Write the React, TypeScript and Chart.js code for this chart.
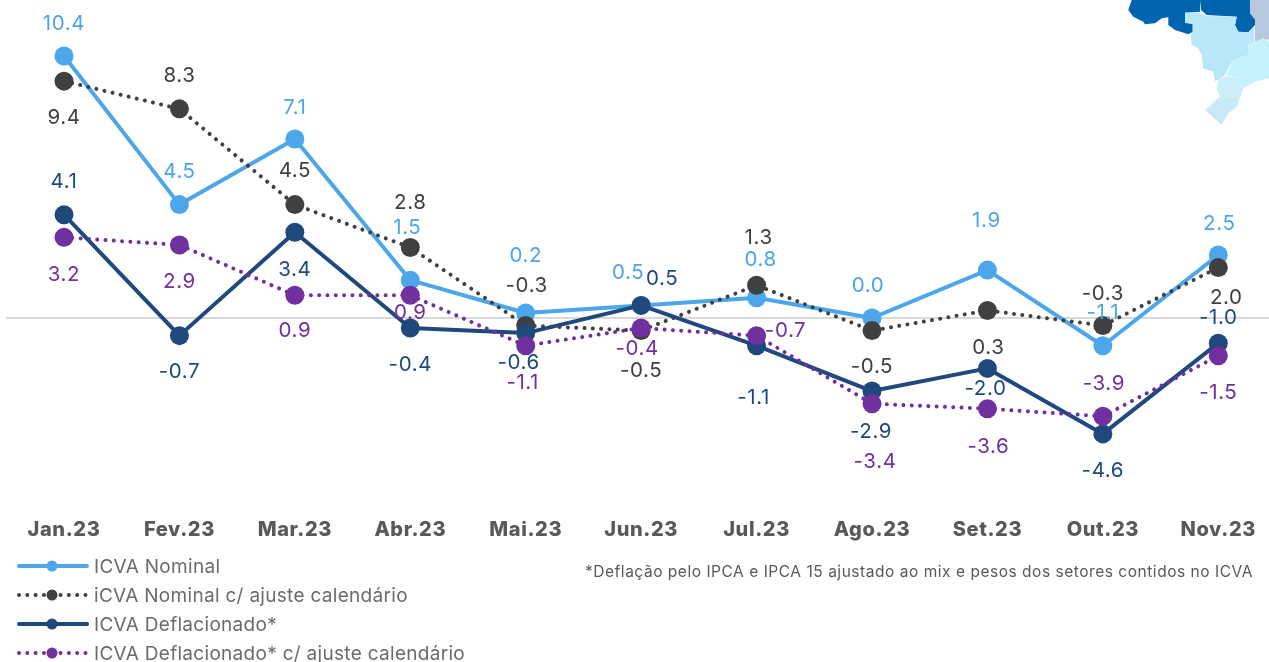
import React, { useEffect, useRef } from "react";
import { Chart, registerables } from "chart.js";

Chart.register(...registerables);

const categories = ["Jan.23", "Fev.23", "Mar.23", "Abr.23", "Mai.23", "Jun.23", "Jul.23", "Ago.23", "Set.23", "Out.23", "Nov.23"];
const nominal = [10.4, 4.5, 7.1, 1.5, 0.2, 0.5, 0.8, 0.0, 1.9, -1.1, 2.5];
const nominalAdjusted = [9.4, 8.3, 4.5, 2.8, -0.3, -0.5, 1.3, -0.5, 0.3, -0.3, 2.0];
const deflated = [4.1, -0.7, 3.4, -0.4, -0.6, 0.5, -1.1, -2.9, -2.0, -4.6, -1.0];
const deflatedAdjusted = [3.2, 2.9, 0.9, 0.9, -1.1, -0.4, -0.7, -3.4, -3.6, -3.9, -1.5];
const footnote = "*Deflação pelo IPCA e IPCA 15 ajustado ao mix e pesos dos setores contidos no ICVA";

// label offsets from each point, in pixels
const nominalOffsets = [[0,-34],[0,-35],[0,-33],[-3,-54],[0,-59],[-13,-35],[4,-40],[-4,-34],[-1,-51],[0,-35],[1,-33]];
const nominalAdjustedOffsets = [[0,35],[0,-35],[0,-36],[0,-47],[1,-42],[0,38],[2,-49],[0,34],[1,35],[0,-34],[8,28]];
const deflatedOffsets = [[0,-35],[0,34],[0,36],[0,35],[-7,28],[21,-29],[-3,50],[-1,39],[-2,18],[0,35],[0,-27]];
const deflatedAdjustedOffsets = [[0,35],[0,35],[0,34],[0,16],[-3,35],[-4,19],[29,-7],[3,56],[1,36],[1,-34],[0,35]];

const FONT = "Inter, 'Open Sans', sans-serif";
const DOTTED = [0.01, 8.3];

const seriesOffsets = [nominalOffsets, nominalAdjustedOffsets, deflatedOffsets, deflatedAdjustedOffsets];

const labelPlugin = {
  id: "pointValueLabels",
  beforeDraw(chart: any) {
    chart.ctx.letterSpacing = "0.6px";
  },
  afterDatasetsDraw(chart: any) {
    const { ctx } = chart;
    ctx.save();
    ctx.textAlign = "center";
    ctx.textBaseline = "middle";
    ctx.font = `400 20.5px ${FONT}`;
    chart.data.datasets.forEach((ds: any, d: number) => {
      const meta = chart.getDatasetMeta(d);
      ctx.fillStyle = ds.borderColor;
      meta.data.forEach((pt: any, i: number) => {
        const [dx, dy] = seriesOffsets[d][i];
        ctx.fillText(ds.data[i].toFixed(1), pt.x + dx, pt.y + dy + 2);
      });
    });
    ctx.restore();
  },
};

const legendPlugin = {
  id: "lineMarkerLegend",
  afterDraw(chart: any) {
    const { ctx } = chart;
    ctx.save();
    chart.data.datasets.forEach((ds: any, d: number) => {
      const y = 566 + d * 29;
      ctx.strokeStyle = ds.borderColor;
      ctx.lineWidth = ds.borderWidth;
      ctx.lineCap = "round";
      ctx.setLineDash(ds.borderDash || []);
      ctx.beginPath();
      ctx.moveTo(19, y);
      ctx.lineTo(87, y);
      ctx.stroke();
      ctx.setLineDash([]);
      ctx.fillStyle = ds.pointBackgroundColor;
      ctx.beginPath();
      ctx.arc(52, y, 5.5, 0, Math.PI * 2);
      ctx.fill();
      ctx.fillStyle = "#6b6b6b";
      ctx.font = `400 19px ${FONT}`;
      ctx.letterSpacing = "0.3px";
      ctx.textAlign = "left";
      ctx.textBaseline = "middle";
      ctx.fillText(ds.label, 94, y + 1);
      ctx.letterSpacing = "0.6px";
    });
    ctx.fillStyle = "#595959";
    ctx.font = `400 15.5px ${FONT}`;
    ctx.letterSpacing = "0.53px";
    ctx.textAlign = "left";
    ctx.textBaseline = "middle";
    ctx.fillText(footnote, 585, 572);
    ctx.restore();
  },
};

function makeSeries(label: string, data: number[], color: string, order: number, dotted: boolean) {
  return {
    label,
    data,
    order,
    borderColor: color,
    backgroundColor: color,
    pointBackgroundColor: color,
    pointBorderColor: color,
    pointBorderWidth: 0,
    pointRadius: 9.5,
    borderWidth: 4,
    borderCapStyle: "round" as const,
    borderJoinStyle: "round" as const,
    borderDash: dotted ? DOTTED : [],
    tension: 0,
    fill: false,
  };
}

function BrazilMap() {
  const t = (s: string) =>
    s.trim().split(/\s+/).map((p) => {
      const [x, y] = p.split(",").map(Number);
      return `${(x / 3).toFixed(1)},${(y / 3).toFixed(1)}`;
    }).join(" ");
  return (
    <svg width={169} height={130} style={{ position: "absolute", left: 1100, top: 0 }}>
      <polygon fill="#b7c7dd" points={t("450,0 507,0 507,118 465,125 465,75 450,40")} />
      <polygon fill="#0065ae" points={t("95,0 85,30 100,50 130,65 135,73 165,70 185,55 205,52 205,75 225,90 265,103 278,95 278,72 255,68 255,38 300,35 300,0")} />
      <polygon fill="#0065ae" points={t("300,0 303,30 320,45 410,50 405,75 415,95 445,97 465,75 465,60 450,40 450,0")} />
      <polygon fill="#b8e7f9" points={t("255,38 300,38 320,48 410,50 405,75 415,95 445,97 463,80 463,125 445,135 445,165 400,180 385,205 375,225 355,240 345,243 340,215 310,205 305,165 295,145 275,135 272,105 278,95 278,72 255,68")} />
      <polygon fill="#c6f2fe" points={t("465,125 490,115 507,125 507,235 465,245 430,265 415,235 380,225 400,180 445,165 445,135")} />
      <polygon fill="#cbeef8" points={t("355,240 380,228 415,235 430,265 420,295 360,290 350,265")} />
      <polygon fill="#c8eaf7" points={t("360,290 420,295 410,320 385,340 365,375 315,330")} />
    </svg>
  );
}

export default function App() {
  const ref = useRef<HTMLCanvasElement>(null);
  useEffect(() => {
    const chart = new Chart(ref.current as HTMLCanvasElement, {
      type: "line",
      data: {
        labels: categories,
        datasets: [
          makeSeries("ICVA Nominal", nominal, "#4da6ea", 4, false),
          makeSeries("iCVA Nominal c/ ajuste calendário", nominalAdjusted, "#404040", 3, true),
          makeSeries("ICVA Deflacionado*", deflated, "#1f497d", 2, false),
          makeSeries("ICVA Deflacionado* c/ ajuste calendário", deflatedAdjusted, "#7030a0", 1, true),
        ],
      },
      options: {
        responsive: false,
        animation: false,
        layout: { autoPadding: false, padding: { left: 6.3, right: 0, top: 0, bottom: 0 } },
        plugins: { legend: { display: false }, tooltip: { enabled: false } },
        scales: {
          x: {
            offset: true,
            grid: { display: false },
            border: { display: false },
            afterFit: (s: any) => { s.height = 152; },
            ticks: {
              padding: 0,
              maxRotation: 0,
              autoSkip: false,
              color: "#595959",
              font: { family: FONT, size: 20, weight: 800 },
            },
          },
          y: {
            min: -7.62,
            max: 12.62,
            afterFit: (s: any) => { s.width = 0; },
            afterBuildTicks: (s: any) => { s.ticks = [{ value: 0 }]; },
            border: { display: false },
            grid: { color: "#d9d9d9", lineWidth: 2, drawTicks: false },
            ticks: { display: false },
          },
        },
      },
      plugins: [labelPlugin, legendPlugin],
    } as any);
    return () => chart.destroy();
  }, []);
  return (
    <div style={{ position: "fixed", left: 0, top: 0, width: 1269, height: 662, overflow: "hidden", background: "#fff" }}>
      <canvas ref={ref} width={1276} height={662} style={{ position: "absolute", left: 0, top: 0 }} />
      <BrazilMap />
    </div>
  );
}
